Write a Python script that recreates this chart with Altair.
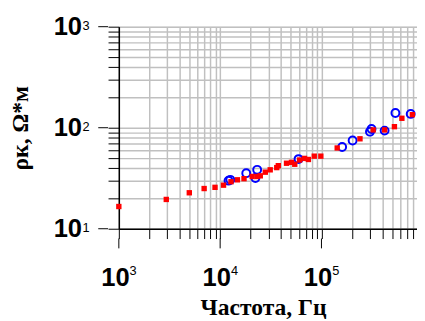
import altair as alt
import pandas as pd

# red squares: frequency (Hz), resistivity (Ohm*m)
red_f = [1000, 2940, 4960, 6950, 8900, 10800, 12800, 14800, 17200, 20700, 23200,
         24900, 27900, 31200, 36200, 37500, 45200, 50600, 54500, 60800, 68000,
         74300, 84900, 98600, 143000, 240000, 324000, 420000, 525000, 622000, 789000]
red_r = [16.6, 19.5, 22.7, 25.0, 25.7, 27.0, 29.2, 30.5, 31.3, 32.9, 32.9,
         33.4, 36.3, 38.3, 40.3, 42.1, 44.5, 45.4, 43.5, 47.9, 49.7,
         48.5, 52.3, 52.3, 63.0, 77.7, 95.1, 95.1, 102.4, 124.0, 134.6]

# blue circles
blue_f = [12100, 12600, 18100, 23200, 22300, 59400, 160000, 203000, 301000,
          312000, 420000, 537000, 760000]
blue_r = [29.9, 30.5, 35.5, 38.3, 31.8, 48.9, 64.4, 74.8, 91.4, 97.0, 93.6,
          140.0, 137.0]

x_ticks = [k * 10 ** e for e in (3, 4, 5) for k in range(1, 10)] + [10 ** 6]
y_ticks = [k * 10 ** e for e in (1, 2) for k in range(1, 10)] + [1000]
x_major = [1000, 10000, 100000, 1000000]
x_exp = ["3", "4", "5", "6"]
y_major = [10, 100, 1000]
y_exp = ["1", "2", "3"]

x_title = "Частота, Гц"
y_title = "ρк, Ω*м"

red = pd.DataFrame({"f": red_f, "r": red_r})
blue = pd.DataFrame({"f": blue_f, "r": blue_r})
xm = pd.DataFrame({"f": x_major, "e": x_exp})
ym = pd.DataFrame({"r": y_major, "e": y_exp})

# the plot runs off the right edge of the picture, as in the original
x_scale = alt.Scale(type="log", domain=[1000, 877000], nice=False)
y_scale = alt.Scale(type="log", domain=[10, 1000], nice=False)

x_lab = "indexof([1000,10000,100000,1000000], datum.value) >= 0 ? '10' : ''"
y_lab = "indexof([10,100,1000], datum.value) >= 0 ? '10' : ''"

x_axis = alt.Axis(
    values=x_ticks, labelExpr=x_lab, grid=True, gridColor="#c0c0c0", gridWidth=1.5,
    domainColor="black", domainWidth=1.5, tickColor="black", tickWidth=1, tickSize=10,
    labelFont="Liberation Sans", labelFontWeight="bold", labelFontSize=26,
    labelColor="black", labelPadding=48, labelBaseline="alphabetic", labelOffset=-4,
    labelFlush=False, labelOverlap=False,
    title=x_title, titleFont="Liberation Serif", titleFontWeight="bold",
    titleFontSize=24, titleColor="black", titleX=147, titleY=87,
    titleBaseline="alphabetic", titleAlign="center",
)
y_axis = alt.Axis(
    values=y_ticks, labelExpr=y_lab, grid=True, gridColor="#c0c0c0", gridWidth=1.5,
    domainColor="black", domainWidth=1.5, tickColor="black", tickWidth=1, tickSize=11,
    labelFont="Liberation Sans", labelFontWeight="bold", labelFontSize=26,
    labelColor="black", labelPadding=27, labelBaseline="middle",
    labelFlush=False, labelOverlap=False,
    title=y_title, titleFont="Liberation Serif", titleFontWeight="bold",
    titleFontSize=24, titleColor="black", titleX=-100, titleY=103,
    titleAngle=-90, titleBaseline="middle", titleAlign="center",
)

blue_layer = alt.Chart(blue).mark_point(
    shape="circle", filled=False, size=65, strokeWidth=2, color="#0000ff", opacity=1
).encode(
    x=alt.X("f:Q", scale=x_scale, axis=x_axis),
    y=alt.Y("r:Q", scale=y_scale, axis=y_axis),
)
red_layer = alt.Chart(red).mark_square(size=30, color="#ff0000", opacity=1).encode(
    x=alt.X("f:Q", scale=x_scale),
    y=alt.Y("r:Q", scale=y_scale),
)

# longer major ticks
x_major_ticks = alt.Chart(xm).mark_rule(color="black", strokeWidth=1).encode(
    x=alt.X("f:Q", scale=x_scale), y=alt.value(216), y2=alt.value(226)
)
y_major_ticks = alt.Chart(ym).mark_rule(color="black", strokeWidth=1).encode(
    y=alt.Y("r:Q", scale=y_scale), x=alt.value(-21), x2=alt.value(-11)
)

# superscript exponents of the tick labels
x_sup = alt.Chart(xm).mark_text(
    font="Liberation Sans", fontSize=13, color="black", align="left",
    baseline="alphabetic", dx=11
).encode(x=alt.X("f:Q", scale=x_scale), y=alt.value(253), text="e:N")
y_sup = alt.Chart(ym).mark_text(
    font="Liberation Sans", fontSize=13, color="black", align="left",
    baseline="alphabetic", dy=3
).encode(y=alt.Y("r:Q", scale=y_scale), x=alt.value(-37), text="e:N")

chart = alt.layer(
    blue_layer, red_layer, x_major_ticks, y_major_ticks, x_sup, y_sup
).properties(
    width=304, height=206,
    autosize=alt.AutoSizeParams(type="none"),
    padding={"left": 113, "top": 16, "right": 0, "bottom": 91},
).configure_view(strokeWidth=0).configure(background="white")

chart.save("out.html", embed_options={"renderer": "svg", "actions": False})
